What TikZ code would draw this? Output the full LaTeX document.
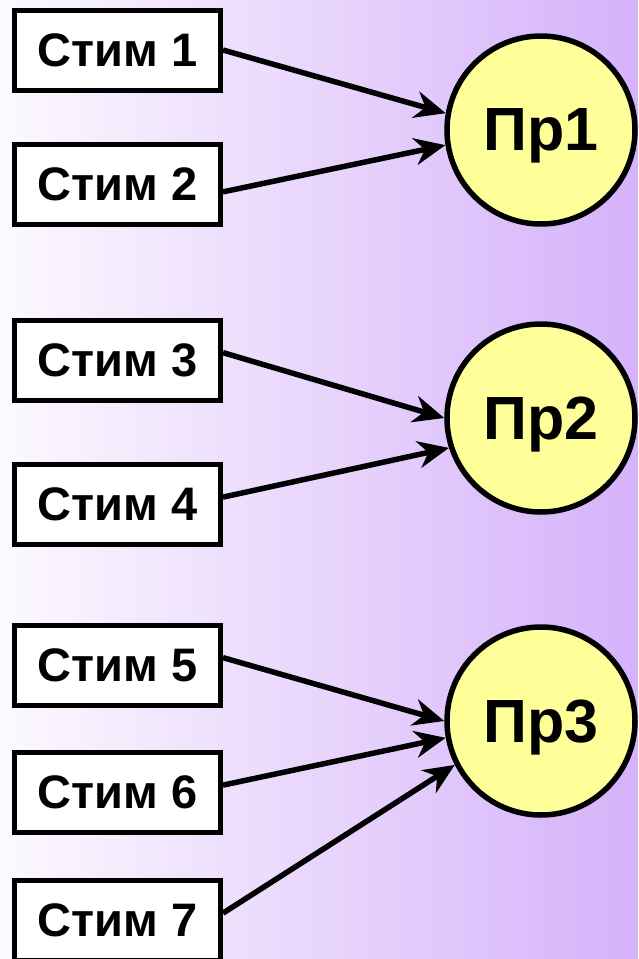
\documentclass[tikz,border=0pt]{standalone}
\usepackage{fontspec}
\setmainfont{Liberation Sans}
\usetikzlibrary{arrows.meta,positioning}
\definecolor{bgleft}{RGB}{252,249,255}
\definecolor{bgright}{RGB}{213,178,250}
\definecolor{prfill}{RGB}{255,255,153}

\begin{document}
\begin{tikzpicture}[x=1pt,y=-1pt,
    stim/.style={draw=black,line width=5pt,fill=white,minimum width=206pt,minimum height=80pt,inner sep=0pt,font=\fontsize{47}{50}\selectfont\bfseries},
    pr/.style={circle,draw=black,line width=5.5pt,fill=prfill,minimum size=188pt,inner sep=0pt,text depth=0pt,font=\fontsize{61}{64}\selectfont\bfseries},
    link/.style={line width=5.5pt,-{Stealth[length=31pt,width=27pt,inset=10pt]}}]
    \useasboundingbox (0,0) rectangle (638,959);
    \fill[left color=bgleft,right color=bgright] (0,0) rectangle (638,959);
    % stimuli
    \node[stim] (s1) at (117.5,50) {Стим 1};
    \node[stim] (s2) at (117.5,184.5) {Стим 2};
    \node[stim] (s3) at (117.5,360) {Стим 3};
    \node[stim] (s4) at (117.5,504.5) {Стим 4};
    \node[stim] (s5) at (117.5,665) {Стим 5};
    \node[stim] (s6) at (117.5,792.5) {Стим 6};
    \node[stim] (s7) at (117.5,920.5) {Стим 7};
    % responses
    \node[pr] (p1) at (541,130) {Пр1};
    \node[pr] (p2) at (541,418) {Пр2};
    \node[pr] (p3) at (541,721) {Пр3};
    % links
    \draw[link] (s1.east) -- (p1.170);
    \draw[link] (s2.-4) -- (p1.189);
    \draw[link] (s3.4) -- (p2.180);
    \draw[link] (s4.4) -- (p2.198);
    \draw[link] (s5.4) -- (p3.180);
    \draw[link] (s6.4) -- (p3.190);
    \draw[link] (s7.4) -- (p3.207);
\end{tikzpicture}
\end{document}
